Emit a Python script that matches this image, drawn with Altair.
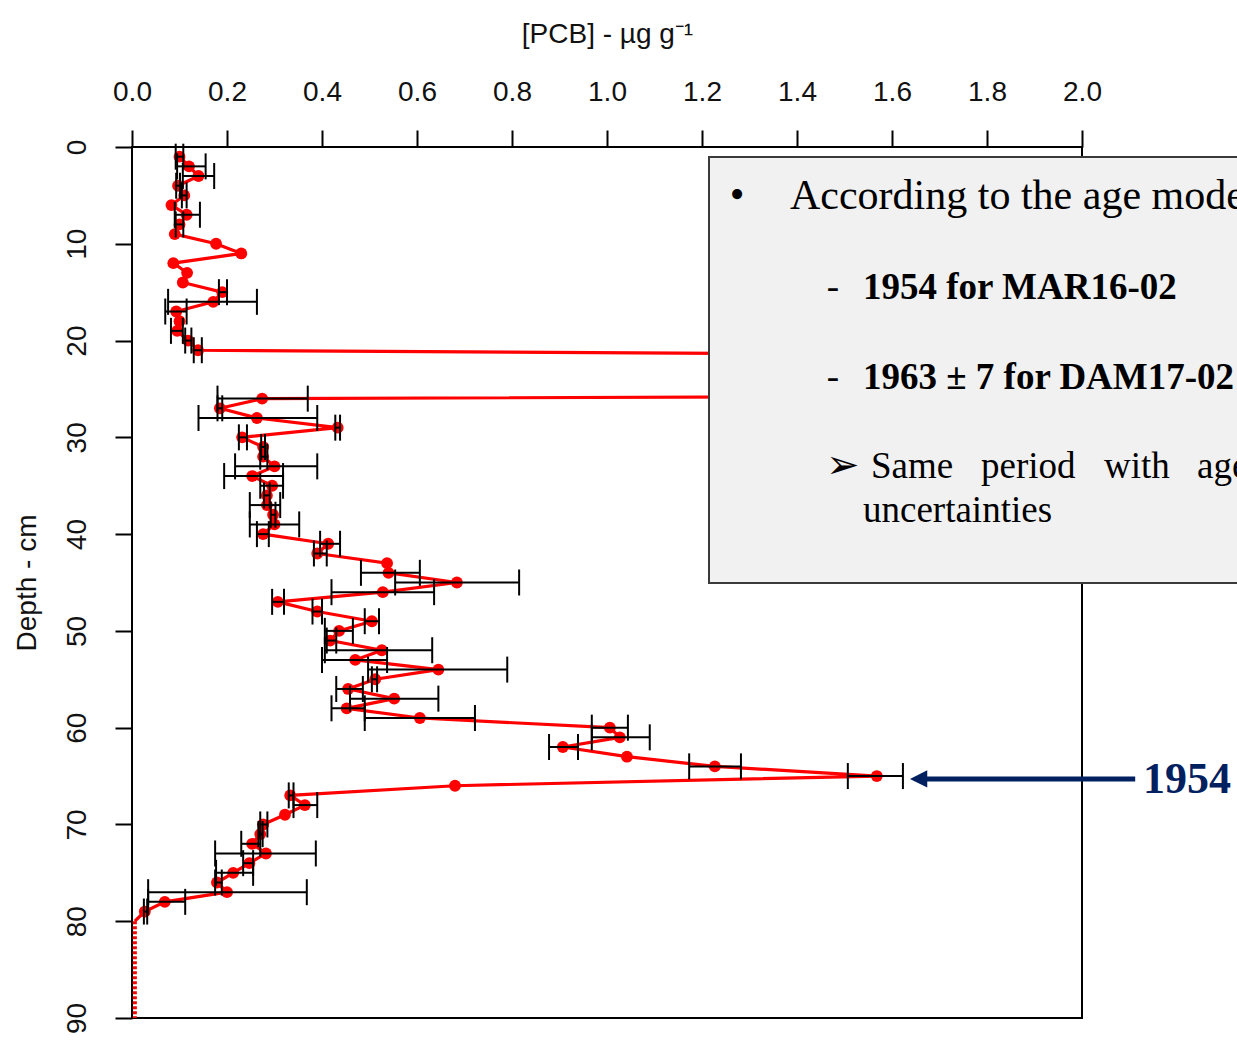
import altair as alt
import pandas as pd

# ---- data ----
depth = list(range(1, 91))
pcb = [0.100, 0.120, 0.140, 0.097, 0.110, 0.083, 0.115, 0.100, 0.090, 0.177,
       0.230, 0.087, 0.116, 0.107, 0.190, 0.171, 0.093, 0.100, 0.095, 0.118,
       0.139, 3.600, 4.500, 5.500, 6.000, 0.274, 0.185, 0.263, 0.433, 0.232,
       0.276, 0.276, 0.300, 0.253, 0.295, 0.284, 0.284, 0.297, 0.300, 0.276,
       0.413, 0.390, 0.537, 0.540, 0.684, 0.528, 0.307, 0.390, 0.505, 0.436,
       0.417, 0.526, 0.470, 0.645, 0.512, 0.455, 0.552, 0.452, 0.606, 1.006,
       1.027, 0.907, 1.042, 1.227, 1.568, 0.680, 0.333, 0.364, 0.322, 0.276,
       0.270, 0.253, 0.282, 0.247, 0.213, 0.179, 0.200, 0.069, 0.027, 0.006,
       0.006, 0.006, 0.006, 0.006, 0.006, 0.006, 0.006, 0.006, 0.006, 0.006]

err_depth = [1, 2, 3, 4, 5, 7, 8, 15, 16, 17, 19, 20, 21,
             26, 27, 28, 29, 30, 31, 32, 33, 34, 35, 36, 37, 38, 39, 40,
             41, 42, 44, 45, 46, 47, 48, 49, 50, 51, 52, 53, 54, 55, 56, 57, 58, 59,
             60, 61, 62, 64, 65, 67, 68, 70, 71, 72, 73, 74, 75, 76, 77, 78, 79]
err_lo = [0.092, 0.095, 0.107, 0.093, 0.105, 0.090, 0.092, 0.183, 0.076, 0.070, 0.082, 0.112, 0.130,
          0.180, 0.180, 0.140, 0.428, 0.225, 0.272, 0.270, 0.217, 0.194, 0.270, 0.278, 0.248, 0.292, 0.248, 0.263,
          0.396, 0.383, 0.482, 0.554, 0.420, 0.295, 0.380, 0.490, 0.406, 0.410, 0.406, 0.400, 0.497, 0.505, 0.430, 0.459, 0.420, 0.490,
          0.968, 0.968, 0.878, 1.173, 1.507, 0.330, 0.340, 0.270, 0.266, 0.230, 0.175, 0.234, 0.177, 0.175, 0.034, 0.034, 0.025]
err_hi = [0.108, 0.155, 0.173, 0.101, 0.115, 0.143, 0.108, 0.200, 0.263, 0.115, 0.107, 0.125, 0.147,
          0.370, 0.190, 0.390, 0.438, 0.242, 0.280, 0.285, 0.390, 0.318, 0.318, 0.290, 0.312, 0.302, 0.352, 0.288,
          0.438, 0.410, 0.606, 0.815, 0.636, 0.320, 0.400, 0.520, 0.465, 0.430, 0.632, 0.537, 0.790, 0.516, 0.486, 0.645, 0.490, 0.722,
          1.044, 1.090, 0.939, 1.282, 1.623, 0.340, 0.390, 0.285, 0.275, 0.270, 0.387, 0.255, 0.255, 0.189, 0.368, 0.112, 0.032]

x_ticks = [0.0, 0.2, 0.4, 0.6, 0.8, 1.0, 1.2, 1.4, 1.6, 1.8, 2.0]
y_ticks = [0, 10, 20, 30, 40, 50, 60, 70, 80, 90]

# annotation arrow (data coordinates)
arrow_depth = [65.3]
arrow_from = [2.112]
arrow_to = [1.672]
arrow_head = [1.656]

df = pd.DataFrame({"depth": depth, "pcb": pcb})
df_main = df[df["depth"] <= 80]
df_deep = df[df["depth"] >= 80]
df_pts = df[df["depth"] <= 79]
df_err = pd.DataFrame({"depth": err_depth, "lo": err_lo, "hi": err_hi})
df_arrow = pd.DataFrame({"depth": arrow_depth, "x1": arrow_from, "x2": arrow_to, "xh": arrow_head})

W, H = 950, 871
L, T = 132, 147

xscale = alt.Scale(domain=[0, 2], nice=False, zero=False)
yscale = alt.Scale(domain=[0, 90], reverse=True, nice=False, zero=False)

xenc = alt.X("pcb:Q", scale=xscale,
             axis=alt.Axis(orient="top", values=x_ticks, format=".1f", labelFlush=False,
                           title="[PCB] - µg g⁻¹", titlePadding=30))
yenc = alt.Y("depth:Q", scale=yscale,
             axis=alt.Axis(values=y_ticks, title="Depth - cm", labelAngle=-90, labelFlush=False,
                           labelAlign="center", labelBaseline="bottom", titlePadding=22))

line = alt.Chart(df_main).mark_line(color="#ff0000", strokeWidth=3.2, clip=True).encode(
    x=xenc, y=yenc, order=alt.Order("depth:Q"))
deep = alt.Chart(df_deep).mark_line(color="#ff0000", strokeWidth=4, strokeDash=[3, 2], clip=True).encode(
    x="pcb:Q", y="depth:Q", order=alt.Order("depth:Q"))
pts = alt.Chart(df_pts).mark_circle(color="#ff0000", size=140, opacity=1, clip=True).encode(
    x="pcb:Q", y="depth:Q")
bars = alt.Chart(df_err).mark_rule(color="black", strokeWidth=2).encode(
    x="lo:Q", x2="hi:Q", y="depth:Q")
caps = alt.Chart(df_err).transform_fold(["lo", "hi"], as_=["k", "v"]).mark_tick(
    orient="vertical", color="black", size=26, thickness=2, opacity=1).encode(
    x="v:Q", y="depth:Q")

box = alt.Chart(pd.DataFrame({"a": [0]})).mark_rect(
    fill="#f1f1f1", stroke="#3a3a3a", strokeWidth=2).encode(
    x=alt.value(709 - L), x2=alt.value(1300 - L), y=alt.value(157 - T), y2=alt.value(583 - T))

SERIF = "Liberation Serif, Times New Roman, serif"


def txt(s, X, Y, size, bold=False, font=SERIF, color="black", align="left"):
    return alt.Chart(pd.DataFrame({"t": [s]})).mark_text(
        font=font, fontSize=size, fontWeight="bold" if bold else "normal",
        color=color, align=align, baseline="alphabetic").encode(
        text="t:N", x=alt.value(X - L), y=alt.value(Y - T))


texts = [
    txt("•", 737, 208, 42, align="center"),
    txt("According to the age model", 790, 209, 42),
    txt("-", 833, 299, 37, align="center"),
    txt("1954 for MAR16-02", 863, 299, 37, bold=True),
    txt("-", 833, 389, 37, align="center"),
    txt("1963 ± 7 for DAM17-02", 863, 389, 37, bold=True),
    txt("➢", 826, 478, 40, font="DejaVu Sans"),
    txt("Same", 871, 478, 37),
    txt("period", 981, 478, 37),
    txt("with", 1104, 478, 37),
    txt("age", 1197, 478, 37),
    txt("uncertainties", 863, 522, 37),
    txt("1954", 1143, 793, 44, bold=True, color="#002060"),
]

arrow_line = alt.Chart(df_arrow).mark_rule(color="#002060", strokeWidth=5).encode(
    x="x1:Q", x2="x2:Q", y="depth:Q")
arrow_tip = alt.Chart(df_arrow).mark_point(
    shape="M -1 0 L 1 -1 L 1 1 Z", filled=True, color="#002060", size=300, opacity=1).encode(
    x="xh:Q", y="depth:Q")

chart = alt.layer(line, deep, pts, bars, caps, box, *texts, arrow_line, arrow_tip).properties(
    width=W, height=H,
    autosize=alt.AutoSizeParams(type="none"),
    padding={"left": L, "top": T, "right": 1237 - L - W, "bottom": 1046 - T - H},
    background="white",
).configure_view(stroke="black", strokeWidth=2).configure_axis(
    labelFont="Liberation Sans", labelFontSize=28, labelColor="#111",
    titleFont="Liberation Sans", titleFontSize=28, titleFontWeight="normal", titleColor="#111",
    tickSize=17, tickWidth=2, tickColor="black", domain=False, grid=False,
    labelPadding=24,
)

chart.save("out.html", embed_options={"renderer": "svg", "actions": False})
